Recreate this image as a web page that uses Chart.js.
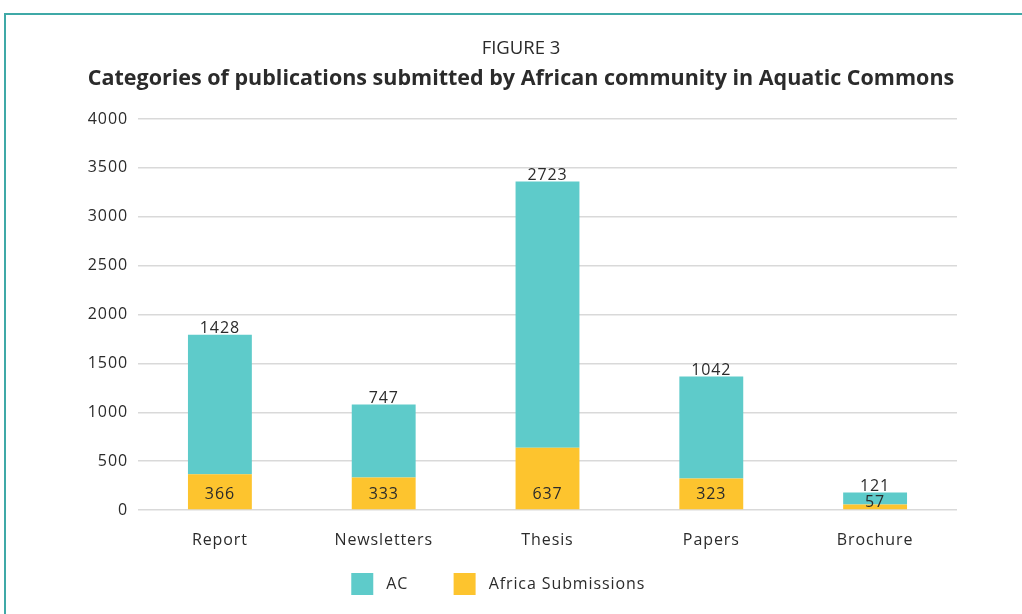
<!DOCTYPE html>
<html>
<head>
<meta charset="utf-8">
<script src="https://cdn.jsdelivr.net/npm/chart.js@4/dist/chart.umd.min.js"></script>
<style>
  html, body { margin: 0; padding: 0; background: #fff; }
  #wrap { position: relative; width: 1022px; height: 614px; overflow: hidden; }
  #frame { position: absolute; left: 4px; top: 13px; width: 1040px; height: 700px;
           border-top: 2px solid #3fa9a7; border-left: 2px solid #3fa9a7; box-sizing: border-box; }
  canvas { position: absolute; left: 0; top: 0; }
</style>
</head>
<body>
<div id="wrap">
  <div id="frame"></div>
  <canvas id="c" width="1022" height="614"></canvas>
</div>
<script>
const categories = ["Report", "Newsletters", "Thesis", "Papers", "Brochure"];
const africaSubmissions = [366, 333, 637, 323, 57];
const acValues = [1428, 747, 2723, 1042, 121];
const yTicks = [0, 500, 1000, 1500, 2000, 2500, 3000, 3500, 4000];
const titleText = "FIGURE 3";
const subtitleText = "Categories of publications submitted by African community in Aquatic Commons";

const FONT = "'Open Sans', 'DejaVu Sans', sans-serif";
const TEXT = "#2b2b2b";
const SPACING = '0.9px';

const spacingPlugin = {
  id: 'spacingPlugin',
  beforeLayout(chart) { chart.ctx.letterSpacing = SPACING; },
  beforeDraw(chart) {
    chart.ctx.letterSpacing = SPACING;
    chart.boxes.forEach(b => {
      if (b.options && (b.options.text === titleText || b.options.text === subtitleText) && !b._wrapped) {
        const orig = b.draw.bind(b);
        b.draw = function () {
          chart.ctx.letterSpacing = '0px';
          orig();
          chart.ctx.letterSpacing = SPACING;
        };
        b._wrapped = true;
      }
    });
  }
};

const valueLabels = {
  id: 'valueLabels',
  afterDatasetsDraw(chart) {
    const ctx = chart.ctx;
    ctx.save();
    ctx.font = "16px " + FONT;
    ctx.fillStyle = TEXT;
    ctx.textAlign = 'center';
    chart.data.datasets.forEach((ds, di) => {
      const meta = chart.getDatasetMeta(di);
      meta.data.forEach((bar, i) => {
        const v = ds.data[i];
        if (di === 1) {
          ctx.textBaseline = 'bottom';
          ctx.fillText(String(v), bar.x, bar.y + 2);
        } else {
          ctx.textBaseline = 'middle';
          const mid = (bar.y + bar.base) / 2;
          const y = Math.max(bar.base - 15, mid - 4);
          ctx.fillText(String(v), bar.x, y);
        }
      });
    });
    ctx.restore();
  }
};

new Chart(document.getElementById('c'), {
  type: 'bar',
  data: {
    labels: categories,
    datasets: [
      { label: 'Africa Submissions', data: africaSubmissions, backgroundColor: '#fdc42e' },
      { label: 'AC', data: acValues, backgroundColor: '#5ecbca' }
    ]
  },
  options: {
    responsive: false,
    animation: false,
    categoryPercentage: 1,
    barPercentage: 0.39,
    layout: { padding: { left: 85, right: 65, top: 38, bottom: 9 } },
    plugins: {
      title: { display: true, text: titleText, color: TEXT,
               font: { family: FONT, size: 18.5, weight: 'normal' }, padding: { top: 0, bottom: 6 } },
      subtitle: { display: true, text: subtitleText, color: TEXT,
               font: { family: FONT, size: 21.5, weight: 'bold' }, padding: { top: 0, bottom: 27 } },
      legend: {
        position: 'bottom',
        reverse: true,
        labels: {
          boxWidth: 22, boxHeight: 22, padding: 20, color: TEXT,
          font: { family: FONT, size: 16 },
          generateLabels(chart) {
            const items = Chart.defaults.plugins.legend.labels.generateLabels(chart);
            items.forEach(it => {
              it.text = it.text === 'AC' ? ' AC     ' : ' ' + it.text + '         ';
            });
            return items;
          }
        }
      },
      tooltip: { enabled: false }
    },
    scales: {
      x: {
        stacked: true,
        grid: { display: false, drawTicks: false },
        border: { display: false },
        afterFit(scale) { scale.height = 43; },
        ticks: { color: TEXT, font: { family: FONT, size: 16 }, padding: 21 }
      },
      y: {
        stacked: true,
        min: 0, max: 4000,
        afterBuildTicks(scale) { scale.ticks = yTicks.map(v => ({ value: v })); },
        afterFit(scale) { scale.width = 53; },
        grid: { color: '#d9d9d9', lineWidth: 1.5, drawTicks: false },
        border: { display: false },
        ticks: { color: TEXT, font: { family: FONT, size: 16 }, padding: 10,
                 callback: v => String(v) }
      }
    }
  },
  plugins: [spacingPlugin, valueLabels]
});
</script>
</body>
</html>
